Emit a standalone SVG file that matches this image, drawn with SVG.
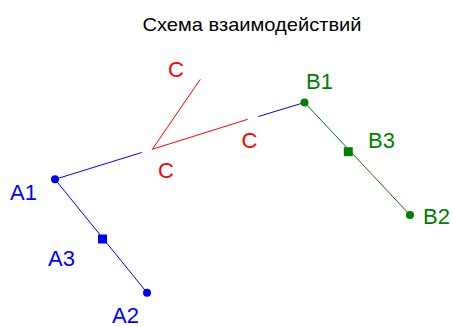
<svg xmlns="http://www.w3.org/2000/svg" width="453" height="327" viewBox="0 0 453 327">
<style>
text{font-family:"Liberation Sans",Arial,sans-serif;}
.lbl{font-size:22px;}
.title{font-size:18.5px;fill:#000;}
.a{fill:#0000ff;}
.b{fill:#008000;}
.c{fill:#ff0000;}
.ln{fill:none;stroke-width:1;}
</style>
<rect width="453" height="327" fill="#fff"/>
<text class="title" x="142.5" y="31" textLength="219" lengthAdjust="spacingAndGlyphs">Схема взаимодействий</text>
<g id="connectors">
<line class="ln" x1="55" y1="179.3" x2="141.7" y2="152.5" stroke="#0000ff"/>
<line class="ln" x1="258.3" y1="116.5" x2="304.5" y2="102.5" stroke="#0000ff"/>
<line class="ln" x1="152.3" y1="149.3" x2="247.7" y2="119.3" stroke="#ff0000"/>
<line class="ln" x1="152.3" y1="149.3" x2="200.3" y2="79.3" stroke="#ff0000"/>
<line class="ln" x1="55" y1="179.3" x2="147" y2="292.7" stroke="#0000ff"/>
<line class="ln" x1="304.5" y1="102.5" x2="410" y2="215" stroke="#008000"/>
</g>
<g id="A1"><circle cx="55" cy="179.3" r="4" class="a"/><text class="lbl a" x="10" y="200">A1</text></g>
<g id="A2"><circle cx="147" cy="292.7" r="4" class="a"/><text class="lbl a" x="112" y="323">A2</text></g>
<g id="A3"><rect x="98" y="234.5" width="9" height="9" class="a"/><text class="lbl a" x="48" y="266">A3</text></g>
<g id="B1"><circle cx="304.5" cy="102.5" r="4" class="b"/><text class="lbl b" x="306" y="89">B1</text></g>
<g id="B2"><circle cx="410" cy="215" r="4" class="b"/><text class="lbl b" x="423" y="224">B2</text></g>
<g id="B3"><rect x="343.8" y="147.2" width="9" height="9" class="b"/><text class="lbl b" x="368" y="148">B3</text></g>
<g id="C1"><text class="lbl c" x="168" y="77">C</text></g>
<g id="C2"><text class="lbl c" x="158" y="178">C</text></g>
<g id="C3"><text class="lbl c" x="241.5" y="148">C</text></g>
</svg>
